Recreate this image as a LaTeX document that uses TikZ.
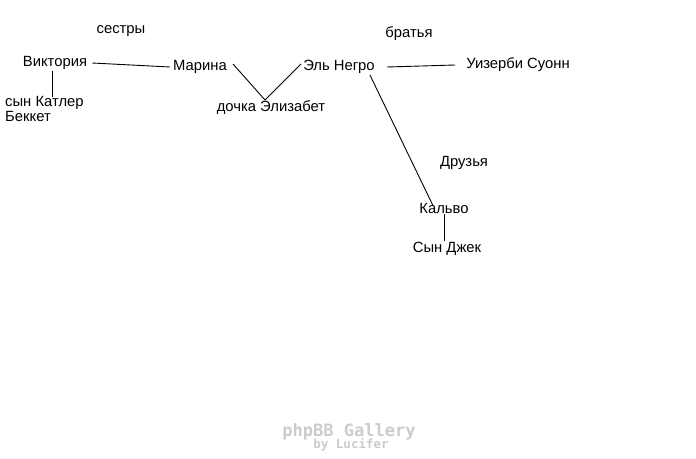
\documentclass[tikz,border=0pt]{standalone}
\usepackage{fontspec}
\setmainfont{Liberation Sans}
\newfontfamily\markfont{DejaVu Sans Mono}
\begin{document}
\begin{tikzpicture}[x=1pt,y=-1pt,
  person/.style={inner sep=1pt,font=\fontsize{14.8}{16}\selectfont},
  tag/.style={inner sep=1pt,font=\fontsize{14.8}{16}\selectfont},
  link/.style={line width=0.9pt},
  wmark/.style={gray!40,inner sep=0pt}]
\useasboundingbox[fill=white] (0,0) rectangle (696,458);

\node[tag] (sis) at (121,31) {сестры};
\node[tag] (bro) at (409,34) {братья};
\node[tag] (fri) at (464,163) {Друзья};

\node[person] (vic) at (55,63) {Виктория};
\node[person,align=left,anchor=west] (cut) at (4,109) {сын Катлер\\[-1pt]Беккет};
\node[person] (mar) at (200,67) {Марина};
\node[person] (eliz) at (271,108) {дочка Элизабет};
\node[person] (neg) at (339,67) {Эль Негро};
\node[person] (suon) at (518,65) {Уизерби Суонн};
\node[person] (kal) at (444,208) {Кальво};
\node[person] (jack) at (447,249) {Сын Джек};

\coordinate (junc) at (265,100);

\draw[link] ([xshift=4pt]vic.east) -- ([xshift=-2pt]mar.west);
\draw[link] ([xshift=-3pt]vic.south) -- ([xshift=-3pt,yshift=-2pt]vic.south |- cut.north);
\draw[link] ([xshift=5pt,yshift=3pt]mar.east) -- (junc);
\draw[link] (junc) -- ([xshift=-1pt,yshift=3pt]neg.west);
\draw[link] ([xshift=11pt]neg.east) -- ([xshift=-10pt]suon.west);
\draw[link] ([xshift=-6pt]neg.south east) -- ([xshift=-11pt,yshift=-4pt]kal.north);
\draw[link] (kal.south) -- (kal.south |- jack.north);

% watermark
\node[wmark,font=\markfont\bfseries\fontsize{17}{18}\selectfont] (wm) at (349,432) {phpBB Gallery};
\node[wmark,font=\markfont\bfseries\fontsize{12.5}{14}\selectfont] (wmby) at (351,445) {by Lucifer};
\end{tikzpicture}
\end{document}
